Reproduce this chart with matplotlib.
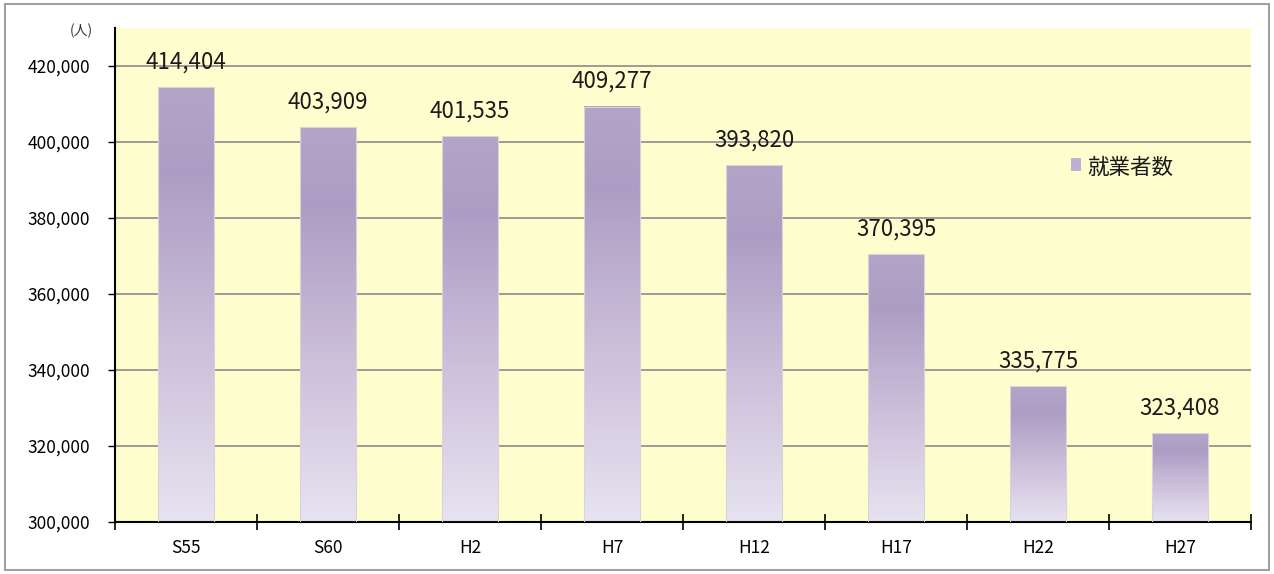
import matplotlib
matplotlib.use("Agg")
import matplotlib.pyplot as plt
import numpy as np
from matplotlib.colors import LinearSegmentedColormap
from matplotlib.patches import Rectangle
from matplotlib.ticker import FuncFormatter, FixedLocator

plt.rcParams['font.family'] = ['Noto Sans CJK JP', 'DejaVu Sans']

categories = ["S55", "S60", "H2", "H7", "H12", "H17", "H22", "H27"]
workers = [414404, 403909, 401535, 409277, 393820, 370395, 335775, 323408]
yticks = [300000, 320000, 340000, 360000, 380000, 400000, 420000]
series_name = "就業者数"
unit_label = "(人)"

fig = plt.figure(figsize=(12.74, 5.74), dpi=100)
fig.patch.set_facecolor("white")
ax = fig.add_axes([115/1274, 1-522/574, (1251-115)/1274, (522-28)/574])
ax.set_facecolor("#FDFDCD")
ymin, ymax = 300000, 430000
ax.set_ylim(ymin, ymax)
ax.set_xlim(-0.5, len(categories)-0.5)

cmap = LinearSegmentedColormap.from_list(
    "g", [(0.0, "#B3A4C8"), (0.2, "#AD9DC4"), (0.55, "#C9BCD8"), (1.0, "#E7E3F0")])
grad = np.linspace(0, 1, 256).reshape(-1, 1)

ax.yaxis.grid(True, color="#8C8C8C", linewidth=1.2, zorder=0)
ax.set_axisbelow(True)

bw = 0.39
for i, v in enumerate(workers):
    x0 = i - bw/2
    ax.imshow(grad, cmap=cmap, aspect="auto", extent=(x0, x0+bw, ymin, v),
              origin="upper", zorder=2, interpolation="bilinear")
    ax.add_patch(Rectangle((x0, ymin), bw, v-ymin, fill=False,
                           edgecolor="#D8D4DC", linewidth=0.8, zorder=3))
    ax.text(i, v + 3600, f"{v:,}", ha="center", va="bottom", fontsize=16,
            color="#1A1A1A", zorder=4)

ax.set_yticks(yticks)
ax.yaxis.set_major_formatter(FuncFormatter(lambda v, p: f"{int(v):,}"))
ax.tick_params(axis="y", direction="out", length=5, width=1, labelsize=12.5,
               colors="black", pad=13)
ax.set_xticks(range(len(categories)))
ax.set_xticklabels(categories)
ax.tick_params(axis="x", which="major", length=0, labelsize=12.5, pad=12)
ax.xaxis.set_minor_locator(FixedLocator(np.arange(-0.5, len(categories), 1.0)))
ax.tick_params(axis="x", which="minor", direction="inout", length=11, width=1.2,
               colors="black")

for s in ["top", "right"]:
    ax.spines[s].set_visible(False)
ax.spines["left"].set_linewidth(1.5)
ax.spines["bottom"].set_linewidth(1.5)

# legend
ax.add_patch(Rectangle((0.8415, 0.710), 0.0085, 0.026, transform=ax.transAxes,
                       facecolor="#BDB0D3", edgecolor="none", zorder=5))
ax.text(0.856, 0.717, series_name, transform=ax.transAxes, ha="left",
        va="center", fontsize=15.5, color="#1A1A1A")

fig.text(81/1274, 1-31/574, unit_label, ha="center", va="center", fontsize=10,
         color="#333333")

fig.add_artist(Rectangle((5/1274, 4/574), 1264/1274, 566/574,
                         transform=fig.transFigure, fill=False,
                         edgecolor="#A0A0A0", linewidth=1.5))

fig.savefig("out.png", dpi=100)
